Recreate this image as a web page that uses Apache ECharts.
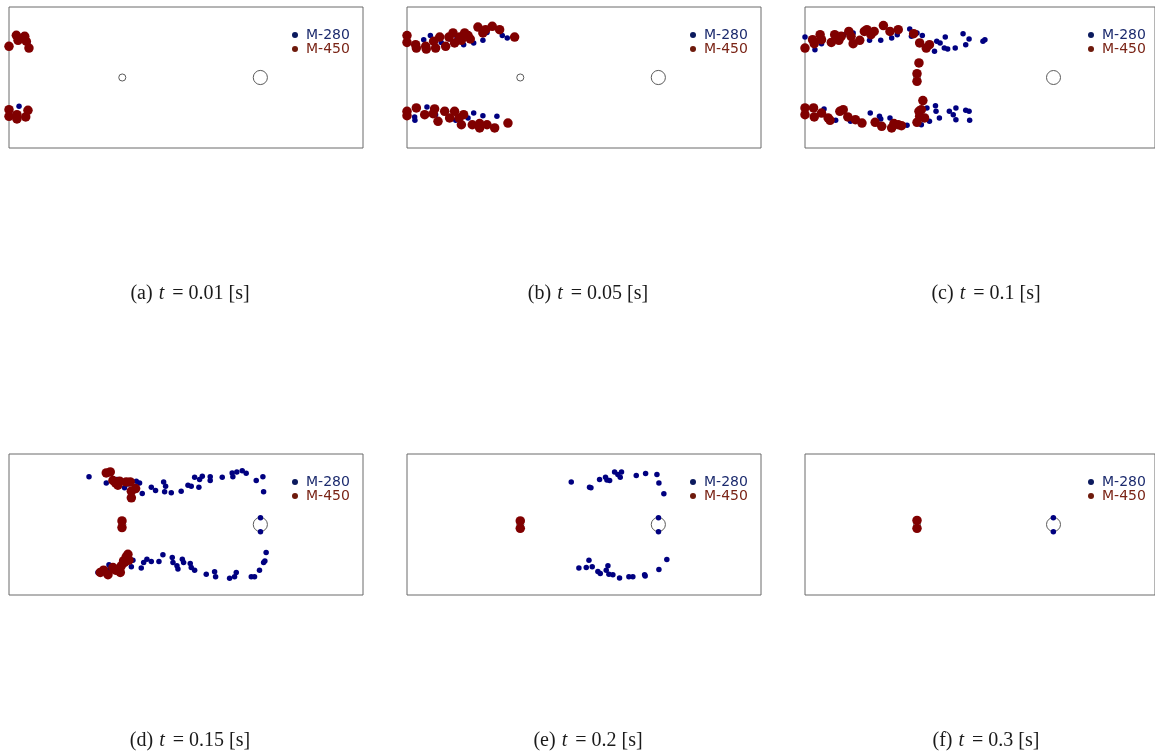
<!DOCTYPE html>
<html>
<head>
<meta charset="utf-8">
<script src="https://cdn.jsdelivr.net/npm/echarts@6/dist/echarts.min.js"></script>
<style>
  html, body { margin: 0; padding: 0; background: #ffffff; }
  #chart { width: 1155px; height: 755px; }
</style>
</head>
<body>
<div id="chart"></div>
<script>
// Particle positions [x, y] in cm inside the 25 x 10 cm channel, per snapshot.
const panelLabels = ['(a)', '(b)', '(c)', '(d)', '(e)', '(f)'];
const timeLabels = ['0.01', '0.05', '0.1', '0.15', '0.2', '0.3'];
const seriesNames = ['M-280', 'M-450'];

// Obstacles: [cx, cy, radius]
const obstacles = [[8, 5, 0.25], [17.75, 5, 0.5]];

const a_m280 = [[1.06, 8.04], [1.34, 7.49], [0.71, 2.96], [0.05, 2.48]];
const a_m450 = [[0.00, 7.21], [0.52, 7.99], [0.64, 7.64], [1.11, 7.92], [1.22, 7.57], [1.41, 7.09],
  [0.00, 2.72], [0.00, 2.25], [0.56, 2.36], [0.56, 2.06], [1.18, 2.20], [1.34, 2.67]];

const b_m280 = [[1.18, 7.68], [1.65, 7.97], [2.42, 7.49], [3.01, 7.73], [3.53, 7.80], [4.00, 7.33],
  [4.71, 7.45], [5.36, 7.64], [5.65, 8.20], [6.73, 7.97], [7.08, 7.80],
  [0.54, 2.20], [0.56, 1.96], [1.41, 2.91], [2.02, 2.36], [2.73, 2.72], [3.44, 1.96],
  [4.31, 2.13], [4.71, 2.48], [5.36, 2.29], [6.35, 2.25]];
const b_m450 = [[0.00, 7.97], [0.00, 7.49], [0.61, 7.33], [0.66, 7.09], [1.32, 7.21], [1.36, 7.02],
  [1.88, 7.57], [2.02, 7.09], [2.31, 7.87], [2.73, 7.21], [2.96, 7.87], [3.25, 8.16], [3.36, 7.45],
  [3.72, 7.87], [3.84, 7.64], [4.07, 8.16], [4.31, 7.97], [4.47, 7.73], [5.01, 8.58], [5.36, 8.16],
  [5.55, 8.39], [6.02, 8.63], [6.54, 8.39], [7.60, 7.87],
  [0.00, 2.60], [0.00, 2.29], [0.66, 2.84], [1.25, 2.36], [1.84, 2.43], [1.95, 2.77], [2.19, 1.89],
  [2.66, 2.60], [3.01, 2.13], [3.36, 2.60], [3.67, 2.13], [3.84, 1.65], [4.00, 2.36], [4.61, 1.65],
  [5.13, 1.73], [5.13, 1.42], [5.65, 1.65], [6.19, 1.42], [7.13, 1.77]];

const c_m280 = [[0.00, 7.87], [0.71, 6.97], [1.18, 7.40], [2.78, 8.04], [3.44, 8.16], [4.61, 7.64],
  [5.41, 7.64], [6.19, 7.80], [6.59, 8.04], [7.48, 8.44], [8.00, 8.16], [8.38, 7.97], [7.60, 7.92],
  [9.25, 6.86], [9.41, 7.57], [9.65, 7.45], [10.02, 7.87], [9.95, 7.09], [10.19, 7.02], [10.73, 7.09],
  [11.29, 8.11], [11.48, 7.33], [11.72, 7.73], [12.71, 7.57], [12.85, 7.68],
  [1.36, 2.77], [2.19, 1.96], [2.96, 2.20], [3.25, 1.89], [4.66, 2.48], [5.32, 2.25], [5.41, 2.06],
  [6.07, 2.13], [7.29, 1.61], [8.31, 1.65], [8.71, 2.84], [8.89, 1.89], [9.32, 3.00], [9.36, 2.60],
  [9.60, 2.13], [10.31, 2.60], [10.59, 2.36], [10.78, 2.84], [10.78, 2.01], [11.48, 2.67],
  [11.72, 2.60], [11.76, 1.96]];
const c_m450 = [[0.00, 7.09], [0.54, 7.68], [0.66, 7.40], [1.08, 8.04], [1.18, 7.68], [1.88, 7.49],
  [2.12, 8.04], [2.42, 7.64], [2.59, 7.92], [3.13, 8.27], [3.29, 7.92], [3.44, 7.40], [3.91, 7.64],
  [4.24, 8.27], [4.42, 8.39], [4.71, 8.04], [4.94, 8.27], [5.60, 8.68], [6.07, 8.27], [6.66, 8.39],
  [7.76, 8.11], [8.19, 7.45], [8.66, 7.09], [8.89, 7.33],
  [8.14, 6.03], [8.00, 5.27], [8.00, 4.73],
  [0.00, 2.84], [0.00, 2.36], [0.61, 2.84], [0.66, 2.20], [1.18, 2.48], [1.65, 2.13], [1.79, 1.96],
  [2.49, 2.60], [2.73, 2.72], [3.06, 2.20], [3.60, 2.01], [4.07, 1.77], [5.01, 1.82], [5.48, 1.54],
  [6.19, 1.42], [6.35, 1.73], [6.66, 1.65], [6.89, 1.58], [8.00, 1.82], [8.19, 2.25], [8.31, 2.72],
  [8.42, 3.36], [8.54, 2.13], [8.14, 2.60]];

const d_m280 = [[5.65, 8.38], [6.87, 7.95], [7.62, 8.19], [8.16, 7.60], [8.40, 7.88], [8.99, 8.07],
  [9.22, 7.95], [9.41, 7.20], [10.05, 7.65], [10.35, 7.41], [10.92, 8.02], [11.06, 7.72],
  [10.99, 7.32], [11.46, 7.25], [12.16, 7.36], [12.64, 7.79], [12.87, 7.72], [13.11, 8.35],
  [13.46, 8.19], [13.41, 7.65], [13.65, 8.42], [14.21, 8.38], [14.21, 8.12], [15.06, 8.35],
  [15.76, 8.66], [15.81, 8.38], [16.09, 8.73], [16.47, 8.82], [16.75, 8.64], [17.46, 8.12],
  [17.93, 8.38], [17.98, 7.32],
  [17.76, 5.48], [17.76, 4.49],
  [6.28, 1.60], [7.06, 2.14], [7.11, 1.84], [8.64, 2.00], [8.75, 2.47], [9.34, 1.91], [9.51, 2.31],
  [9.74, 2.54], [10.05, 2.38], [10.59, 2.38], [10.87, 2.85], [11.53, 2.66], [11.58, 2.31],
  [11.86, 2.07], [11.93, 1.84], [12.24, 2.54], [12.33, 2.31], [12.80, 2.24], [12.87, 1.95],
  [13.11, 1.76], [13.93, 1.48], [14.52, 1.65], [14.59, 1.29], [15.58, 1.18], [15.93, 1.29],
  [16.05, 1.60], [17.11, 1.29], [17.34, 1.29], [17.69, 1.76], [17.98, 2.31], [18.07, 2.42],
  [18.16, 3.01]];
const d_m450 = [[6.87, 8.66], [7.15, 8.73], [7.34, 8.12], [7.53, 7.95], [7.69, 7.79], [7.81, 8.07],
  [8.28, 8.02], [8.56, 8.02], [8.64, 7.36], [8.94, 7.55], [8.64, 6.89],
  [7.98, 5.25], [7.98, 4.78],
  [6.45, 1.60], [6.68, 1.76], [6.99, 1.44], [7.34, 1.95], [7.53, 1.76], [7.86, 1.60], [7.93, 2.07],
  [8.09, 2.42], [8.28, 2.71], [8.40, 2.89], [8.47, 2.47], [8.16, 2.31]];

const e_m280 = [[11.60, 8.02], [12.89, 7.65], [12.99, 7.60], [13.60, 8.19], [14.02, 8.35],
  [14.12, 8.16], [14.31, 8.12], [14.66, 8.73], [14.89, 8.54], [15.06, 8.35], [15.15, 8.73],
  [16.19, 8.47], [16.85, 8.61], [17.65, 8.54], [17.79, 7.95], [18.14, 7.18],
  [17.76, 5.48], [17.76, 4.49],
  [12.14, 1.91], [12.66, 1.95], [12.85, 2.47], [13.08, 2.00], [13.48, 1.67], [13.65, 1.53],
  [14.07, 1.76], [14.19, 2.07], [14.26, 1.48], [14.54, 1.44], [15.01, 1.20], [15.67, 1.29],
  [15.95, 1.29], [16.78, 1.44], [16.82, 1.34], [17.79, 1.81], [18.35, 2.52]];
const e_m450 = [[8.00, 5.25], [8.00, 4.73]];

const f_m280 = [[17.74, 5.48], [17.74, 4.49]];
const f_m450 = [[8.00, 5.29], [8.00, 4.73]];

const m280Sets = [a_m280, b_m280, c_m280, d_m280, e_m280, f_m280];
const m450Sets = [a_m450, b_m450, c_m450, d_m450, e_m450, f_m450];

// Layout of the 2 x 3 panel grid (pixels)
const colLefts = [9, 407, 805];
const rowTops = [7, 454];
const panelW = 354, panelH = 141;
const captionY = [294, 741];

const colors = { m280: '#000080', m450: '#800000', m280Text: '#1c2b6e', m450Text: '#7a2416' };

const grids = [], xAxes = [], yAxes = [], series = [], legends = [], graphics = [];

for (let i = 0; i < 6; i++) {
  const left = colLefts[i % 3];
  const top = rowTops[Math.floor(i / 3)];
  grids.push({
    left: left, top: top, width: panelW, height: panelH,
    show: true, borderColor: '#6b6b6b', borderWidth: 1, backgroundColor: '#ffffff'
  });
  xAxes.push({ gridIndex: i, type: 'value', min: 0, max: 25, show: false });
  yAxes.push({ gridIndex: i, type: 'value', min: 0, max: 10, show: false });

  series.push({
    type: 'custom',
    name: 'obstacle',
    xAxisIndex: i, yAxisIndex: i,
    z: 1,
    silent: true,
    data: obstacles,
    renderItem: function (params, api) {
      const c = api.coord([api.value(0), api.value(1)]);
      const r = api.size([api.value(2), 0])[0];
      return {
        type: 'circle',
        shape: { cx: c[0], cy: c[1], r: r },
        style: { fill: 'none', stroke: '#5a5a5a', lineWidth: 1 }
      };
    }
  });
  series.push({
    type: 'scatter', name: seriesNames[0], xAxisIndex: i, yAxisIndex: i,
    data: m280Sets[i], symbolSize: 5.5, clip: false, z: 3,
    itemStyle: { color: colors.m280, opacity: 1 }
  });
  series.push({
    type: 'scatter', name: seriesNames[1], xAxisIndex: i, yAxisIndex: i,
    data: m450Sets[i], symbolSize: 9.5, clip: false, z: 4,
    itemStyle: { color: colors.m450, opacity: 1 }
  });

  legends.push({
    orient: 'vertical',
    left: left + 283, top: top + 21,
    padding: 0, itemGap: 0,
    itemWidth: 12, itemHeight: 6,
    selectedMode: false,
    textStyle: { fontFamily: 'DejaVu Sans', fontSize: 14, lineHeight: 14 },
    data: [
      { name: seriesNames[0], icon: 'circle', itemStyle: { color: '#0b1a5e' }, textStyle: { color: colors.m280Text } },
      { name: seriesNames[1], icon: 'circle', itemStyle: { color: '#6e1a0c' }, textStyle: { color: colors.m450Text } }
    ]
  });

  graphics.push({
    type: 'text',
    x: left + 181,
    y: captionY[Math.floor(i / 3)],
    style: {
      text: panelLabels[i] + ' {i|t} = ' + timeLabels[i] + ' [s]',
      fontFamily: 'Liberation Serif',
      fontSize: 20,
      fill: '#1a1a1a',
      align: 'center',
      verticalAlign: 'middle',
      rich: { i: { fontFamily: 'Liberation Serif', fontSize: 20, fontStyle: 'italic', fill: '#1a1a1a', padding: [0, 3, 0, 1] } }
    }
  });
}

const chart = echarts.init(document.getElementById('chart'), null, { renderer: 'canvas' });
chart.setOption({
  backgroundColor: '#ffffff',
  animation: false,
  grid: grids,
  xAxis: xAxes,
  yAxis: yAxes,
  legend: legends,
  series: series,
  graphic: graphics
});
</script>
</body>
</html>
